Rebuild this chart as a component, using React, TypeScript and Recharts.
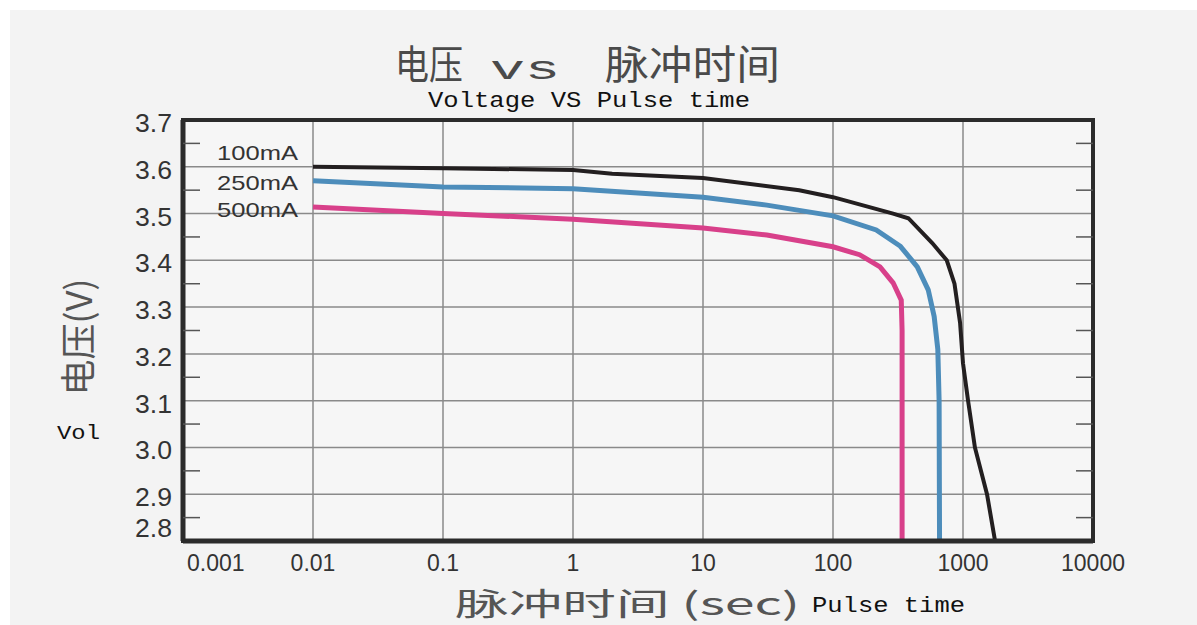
import React from 'react';
import { LineChart, Line, XAxis, YAxis, CartesianGrid, ReferenceArea } from 'recharts';

const X_TICKS = [0.001, 0.01, 0.1, 1, 10, 100, 1000, 10000];
const X_TICK_LABELS = ['0.001', '0.01', '0.1', '1', '10', '100', '1000', '10000'];
const Y_TICKS = [2.8, 2.9, 3.0, 3.1, 3.2, 3.3, 3.4, 3.5, 3.6, 3.7];
const Y_TICK_LABELS = ['2.8', '2.9', '3.0', '3.1', '3.2', '3.3', '3.4', '3.5', '3.6', '3.7'];
const Y_MINOR_TICKS = [2.85, 2.95, 3.05, 3.15, 3.25, 3.35, 3.45, 3.55, 3.65];

const SERIES_NAMES = ['100mA', '250mA', '500mA'];

const series100mA = [
  { x: 0.01, y: 3.6 }, { x: 0.1, y: 3.597 }, { x: 1, y: 3.593 }, { x: 2, y: 3.585 },
  { x: 10, y: 3.576 }, { x: 55, y: 3.55 }, { x: 100, y: 3.535 }, { x: 290, y: 3.5 },
  { x: 380, y: 3.49 }, { x: 580, y: 3.437 }, { x: 750, y: 3.4 }, { x: 860, y: 3.35 },
  { x: 950, y: 3.266 }, { x: 1000, y: 3.18 }, { x: 1094, y: 3.1 }, { x: 1235, y: 3.0 },
  { x: 1530, y: 2.9 }, { x: 1765, y: 2.8 },
];

const series250mA = [
  { x: 0.01, y: 3.57 }, { x: 0.1, y: 3.557 }, { x: 1, y: 3.553 }, { x: 10, y: 3.535 },
  { x: 31, y: 3.518 }, { x: 100, y: 3.495 }, { x: 215, y: 3.465 }, { x: 330, y: 3.43 },
  { x: 445, y: 3.386 }, { x: 540, y: 3.337 }, { x: 600, y: 3.28 }, { x: 640, y: 3.21 },
  { x: 655, y: 3.1 }, { x: 660, y: 2.8 },
];

const series500mA = [
  { x: 0.01, y: 3.514 }, { x: 0.1, y: 3.5 }, { x: 1, y: 3.488 }, { x: 10, y: 3.469 },
  { x: 31, y: 3.454 }, { x: 100, y: 3.429 }, { x: 160, y: 3.412 }, { x: 230, y: 3.386 },
  { x: 290, y: 3.352 }, { x: 335, y: 3.315 }, { x: 340, y: 3.25 }, { x: 340, y: 2.8 },
];

const COLORS = ['#231f20', '#4d8dbb', '#d8408a'];

const LABEL_FONT = '"Liberation Sans", Arial, sans-serif';
const MONO_FONT = '"Liberation Mono", "DejaVu Sans Mono", monospace';
const CJK_FONT = '"Noto Sans CJK SC", "Noto Sans", sans-serif';

const EmptyTick = () => <g />;

const XTick = (props: any) => {
  const { x, y, payload, index } = props;
  const i = X_TICKS.indexOf(payload.value);
  const label = i >= 0 ? X_TICK_LABELS[i] : String(payload.value);
  const first = index === 0 || i === 0;
  return (
    <text
      x={first ? x + 4 : x}
      y={y + 22}
      textAnchor={first ? 'start' : 'middle'}
      dominantBaseline="central"
      fontFamily={LABEL_FONT}
      fontSize={23}
      fill="#333"
    >
      {label}
    </text>
  );
};

const YTick = (props: any) => {
  const { x, y, payload } = props;
  const i = Y_TICKS.findIndex((v) => Math.abs(v - payload.value) < 1e-6);
  const label = i >= 0 ? Y_TICK_LABELS[i] : String(payload.value);
  const isMin = i === 0;
  return (
    <text
      x={x}
      y={isMin ? y - 13 : y + 3}
      textAnchor="end"
      dominantBaseline="central"
      fontFamily={LABEL_FONT}
      fontSize={26}
      fill="#333"
      textLength={37}
      lengthAdjust="spacingAndGlyphs"
    >
      {label}
    </text>
  );
};

export default function App() {
  return (
    <div style={{ position: 'absolute', left: 0, top: 0, width: 1197, height: 625, background: '#ffffff', overflow: 'hidden' }}>
      <div style={{ position: 'absolute', left: 10, top: 10, width: 1187, height: 615, background: '#f3f3f3' }} />
      <div style={{ position: 'absolute', left: 0, top: 0 }}>
        <LineChart
          width={1197}
          height={625}
          margin={{ top: 120, right: 104, left: 0, bottom: 0 }}
        >
          <CartesianGrid stroke="#8a8a8a" strokeWidth={1.5} fill="#f6f6f6" fillOpacity={1} />
          <XAxis
            dataKey="x"
            type="number"
            scale="log"
            domain={[0.001, 10000]}
            ticks={X_TICKS}
            allowDataOverflow
            height={84}
            tickSize={0}
            tickMargin={0}
            tickLine={false}
            axisLine={{ stroke: '#2b2b2b', strokeWidth: 5 }}
            tick={<XTick />}
            interval={0}
          />
          <YAxis
            type="number"
            domain={[2.8, 3.7]}
            ticks={Y_TICKS}
            allowDataOverflow
            width={183}
            tickSize={0}
            tickMargin={11}
            tickLine={false}
            axisLine={{ stroke: '#2b2b2b', strokeWidth: 5 }}
            tick={<YTick />}
            interval={0}
          />
          <YAxis
            yAxisId="minorL"
            orientation="left"
            mirror
            type="number"
            domain={[2.8, 3.7]}
            ticks={Y_MINOR_TICKS}
            allowDataOverflow
            tick={<EmptyTick />}
            tickSize={17}
            axisLine={false}
            tickLine={{ stroke: '#555', strokeWidth: 1.5 }}
            interval={0}
          />
          <YAxis
            yAxisId="minorR"
            orientation="right"
            mirror
            type="number"
            domain={[2.8, 3.7]}
            ticks={Y_MINOR_TICKS}
            allowDataOverflow
            tick={<EmptyTick />}
            tickSize={17}
            axisLine={false}
            tickLine={{ stroke: '#555', strokeWidth: 1.5 }}
            interval={0}
          />
          <ReferenceArea
            x1={0.001}
            x2={10000}
            y1={2.8}
            y2={3.7}
            fill="none"
            stroke="#2b2b2b"
            strokeWidth={4}
            ifOverflow="visible"
          />
          <Line
            data={series500mA}
            dataKey="y"
            name={SERIES_NAMES[2]}
            type="linear"
            stroke={COLORS[2]}
            strokeWidth={5}
            dot={false}
            isAnimationActive={false}
          />
          <Line
            data={series250mA}
            dataKey="y"
            name={SERIES_NAMES[1]}
            type="linear"
            stroke={COLORS[1]}
            strokeWidth={5}
            dot={false}
            isAnimationActive={false}
          />
          <Line
            data={series100mA}
            dataKey="y"
            name={SERIES_NAMES[0]}
            type="linear"
            stroke={COLORS[0]}
            strokeWidth={4}
            dot={false}
            isAnimationActive={false}
          />
        </LineChart>
      </div>
      <svg
        width={1197}
        height={625}
        style={{ position: 'absolute', left: 0, top: 0, pointerEvents: 'none' }}
      >
        <text x={395} y={79} fontFamily={CJK_FONT} fontSize={40} fill="#4a4a4a" textLength={68} lengthAdjust="spacingAndGlyphs">电压</text>
        <text x={490} y={79} fontFamily={MONO_FONT} fontSize={34} fill="#4a4a4a" textLength={70} lengthAdjust="spacingAndGlyphs">vs</text>
        <text x={605} y={79} fontFamily={CJK_FONT} fontSize={40} fill="#4a4a4a" textLength={175} lengthAdjust="spacingAndGlyphs">脉冲时间</text>
        <text x={428} y={107} fontFamily={MONO_FONT} fontSize={22} fill="#111" textLength={322} lengthAdjust="spacingAndGlyphs">Voltage VS Pulse time</text>

        <text x={217} y={152} dominantBaseline="central" fontFamily={LABEL_FONT} fontSize={21} fill="#333" textLength={81} lengthAdjust="spacingAndGlyphs">{SERIES_NAMES[0]}</text>
        <text x={217} y={182} dominantBaseline="central" fontFamily={LABEL_FONT} fontSize={21} fill="#333" textLength={81} lengthAdjust="spacingAndGlyphs">{SERIES_NAMES[1]}</text>
        <text x={217} y={209} dominantBaseline="central" fontFamily={LABEL_FONT} fontSize={21} fill="#333" textLength={81} lengthAdjust="spacingAndGlyphs">{SERIES_NAMES[2]}</text>

        <text
          x={76}
          y={337}
          transform="rotate(-90 76 337)"
          textAnchor="middle"
          dominantBaseline="central"
          fontFamily={CJK_FONT}
          fontSize={36}
          fill="#555"
        >
          电压(V)
        </text>
        <text x={57} y={439} fontFamily={MONO_FONT} fontSize={20} fill="#111" textLength={43} lengthAdjust="spacingAndGlyphs">Vol</text>

        <text x={455} y={615} fontFamily={CJK_FONT} fontSize={31} fill="#555" textLength={345} lengthAdjust="spacingAndGlyphs">脉冲时间 (sec)</text>
        <text x={812} y={612} fontFamily={MONO_FONT} fontSize={22} fill="#111" textLength={153} lengthAdjust="spacingAndGlyphs">Pulse time</text>
      </svg>
    </div>
  );
}
